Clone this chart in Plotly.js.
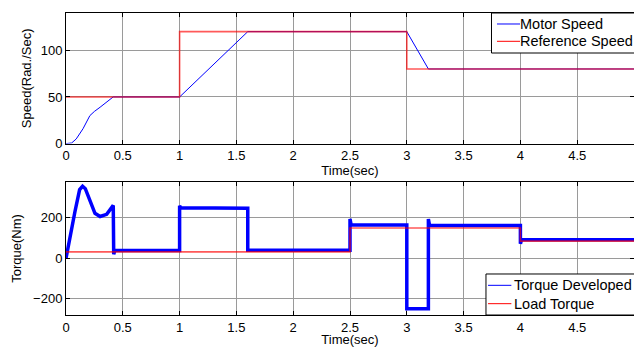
<!DOCTYPE html>
<html>
<head>
<meta charset="utf-8">
<script src="https://cdn.plot.ly/plotly-3.0.1.min.js"></script>
<style>html,body{margin:0;padding:0;background:#fff;}#chart{width:634px;height:347px;}</style>
</head>
<body>
<div id="chart"></div>
<script>
// ---- data ----
const speedTime = [0, 0.03, 0.05, 0.09, 0.15, 0.21, 0.25, 0.30, 0.35, 0.415, 1.0, 1.6, 3.0, 3.19, 5.0];
const motorSpeed = [0, 0, 0.7, 5, 16, 30, 34.5, 39, 44, 50, 50, 120, 120, 80, 80];
const refTime = [0, 1, 1, 3, 3, 5];
const referenceSpeed = [50, 50, 120, 120, 80, 80];

const torqueTime = [0, 0.005, 0.035, 0.079, 0.12, 0.146, 0.17, 0.211, 0.255, 0.30, 0.358, 0.416, 0.42, 0.43, 0.44, 1.0, 1.0, 1.01, 1.6, 1.6, 2.5, 2.5, 2.51, 3.0, 3.0, 3.19, 3.19, 3.2, 4.0, 4.0, 4.01, 5.0];
const torqueDeveloped = [0, 15, 115, 232, 340, 357, 345, 290, 223, 207, 218, 262, 20, 38, 38, 38, 260, 250, 248, 40, 40, 195, 165, 165, -250, -250, 195, 163, 163, 72, 92, 92];
const loadTime = [0, 2.5, 2.5, 4, 4, 5];
const loadTorque = [32, 32, 150, 150, 85, 85];

const xTicks = [0, 0.5, 1, 1.5, 2, 2.5, 3, 3.5, 4, 4.5];
const xTickText = ['0', '0.5', '1', '1.5', '2', '2.5', '3', '3.5', '4', '4.5'];
const speedTicks = [0, 50, 100];
const torqueTicks = [-200, 0, 200];

const speedLegendNames = ['Motor Speed', 'Reference Speed'];
const torqueLegendNames = ['Torque Developed', 'Load Torque'];

// ---- layout ----
const font = {family: 'Liberation Sans, Arial, sans-serif', size: 13, color: '#000'};
const legFont = {family: 'Liberation Sans, Arial, sans-serif', size: 14.5, color: '#000'};
const topDom = [0.5675, 1];
const botDom = [0, 0.4404];
const BLUE = '#0000ff';
const RED_T = 'rgba(255,0,0,0.65)';

const traces = [
  {x: speedTime, y: motorSpeed, type: 'scatter', mode: 'lines', name: speedLegendNames[0],
   line: {color: BLUE, width: 1}, xaxis: 'x', yaxis: 'y'},
  {x: refTime, y: referenceSpeed, type: 'scatter', mode: 'lines', name: speedLegendNames[1],
   line: {color: RED_T, width: 1.6}, xaxis: 'x', yaxis: 'y'},
  {x: torqueTime, y: torqueDeveloped, type: 'scatter', mode: 'lines', name: torqueLegendNames[0],
   line: {color: BLUE, width: 3.5}, xaxis: 'x2', yaxis: 'y2'},
  {x: loadTime, y: loadTorque, type: 'scatter', mode: 'lines', name: torqueLegendNames[1],
   line: {color: RED_T, width: 1.6}, xaxis: 'x2', yaxis: 'y2'}
];

const axBase = {
  showline: true, linecolor: '#000', linewidth: 1, mirror: 'ticks',
  ticks: 'inside', ticklen: 4, tickcolor: '#000',
  showgrid: true, gridcolor: '#9a9a9a', gridwidth: 1,
  zeroline: false, tickfont: font
};

// legend boxes (paper coordinates)
function legendBox(x0, yTop, yBot, rows) {
  const shapes = [{type: 'rect', xref: 'paper', yref: 'paper', x0: x0, x1: 1.03, y0: yBot, y1: yTop,
    fillcolor: '#ffffff', line: {color: '#000', width: 1}, layer: 'above'}];
  const anns = [];
  rows.forEach(r => {
    shapes.push({type: 'line', xref: 'paper', yref: 'paper', x0: r.lx0, x1: r.lx1, y0: r.y, y1: r.y,
      line: {color: r.color, width: 1}, layer: 'above'});
    anns.push({xref: 'paper', yref: 'paper', x: r.tx, y: r.y, text: r.text, showarrow: false,
      xanchor: 'left', yanchor: 'middle', font: legFont, borderpad: 0});
  });
  return {shapes, anns};
}
const topLeg = legendBox(0.7491, 1.0, 0.8675, [
  {text: speedLegendNames[0], color: '#0000ff', y: 0.9636, lx0: 0.7588, lx1: 0.7993, tx: 0.7975},
  {text: speedLegendNames[1], color: '#ff0000', y: 0.9063, lx0: 0.7588, lx1: 0.7993, tx: 0.7975}
]);
const botLeg = legendBox(0.7394, 0.1358, 0.0, [
  {text: torqueLegendNames[0], color: '#0000ff', y: 0.0983, lx0: 0.7430, lx1: 0.7841, tx: 0.7870},
  {text: torqueLegendNames[1], color: '#ff0000', y: 0.0375, lx0: 0.7430, lx1: 0.7841, tx: 0.7870}
]);

const layout = {
  width: 634, height: 347,
  margin: {l: 66, r: 0, t: 13, b: 32, autoexpand: false},
  paper_bgcolor: '#ffffff', plot_bgcolor: '#ffffff',
  font: font,
  showlegend: false,
  xaxis: Object.assign({}, axBase, {domain: [0, 1], range: [0, 5], anchor: 'y',
    tickvals: xTicks, ticktext: xTickText,
    title: {text: 'Time(sec)', font: font, standoff: 2}}),
  yaxis: Object.assign({}, axBase, {domain: topDom, range: [0, 140], anchor: 'x',
    tickvals: speedTicks,
    title: {text: 'Speed(Rad./Sec)', font: font, standoff: 6}}),
  xaxis2: Object.assign({}, axBase, {domain: [0, 1], range: [0, 5], anchor: 'y2',
    tickvals: xTicks, ticktext: xTickText,
    title: {text: 'Time(sec)', font: font, standoff: 3}}),
  yaxis2: Object.assign({}, axBase, {domain: botDom, range: [-281, 378], anchor: 'x2',
    tickvals: torqueTicks,
    title: {text: 'Torque(Nm)', font: font, standoff: 8}}),
  shapes: topLeg.shapes.concat(botLeg.shapes),
  annotations: topLeg.anns.concat(botLeg.anns)
};

Plotly.newPlot('chart', traces, layout, {staticPlot: true, displayModeBar: false});
</script>
</body>
</html>
